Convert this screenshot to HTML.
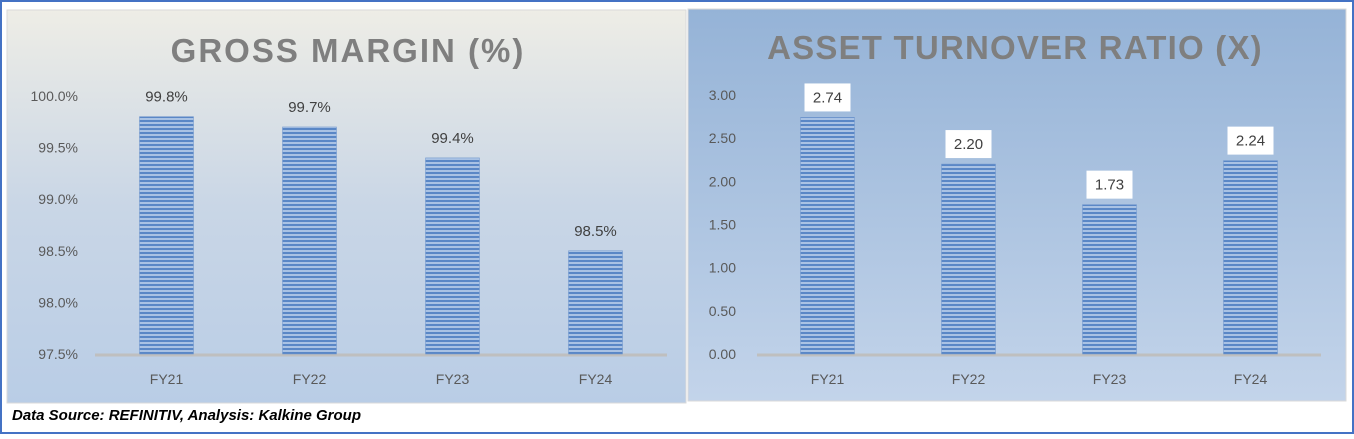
<!DOCTYPE html>
<html><head><meta charset="utf-8"><style>
body{margin:0;width:1354px;height:434px;overflow:hidden;background:#fff;font-family:"Liberation Sans",sans-serif}
</style></head><body>
<svg width="1354" height="434" xmlns="http://www.w3.org/2000/svg" font-family="Liberation Sans, sans-serif">
<defs>
<linearGradient id="gl" x1="0" y1="0" x2="0" y2="1"><stop offset="0" stop-color="#eeede6"/><stop offset="0.5" stop-color="#c9d6e6"/><stop offset="1" stop-color="#b9cde6"/></linearGradient>
<linearGradient id="gr" x1="0" y1="0" x2="0" y2="1"><stop offset="0" stop-color="#95b3d7"/><stop offset="1" stop-color="#c3d4ea"/></linearGradient>
<pattern id="stripe" width="4" height="4" patternUnits="userSpaceOnUse"><rect width="4" height="4" fill="#a9c2e4"/><rect width="4" height="2" fill="#5a87c6"/></pattern>
</defs>
<rect x="1" y="1" width="1352" height="432" fill="#fff" stroke="#4472c4" stroke-width="2"/>
<rect x="7" y="10" width="679" height="393" fill="url(#gl)" stroke="#d9d9d9"/>
<rect x="688" y="9" width="658" height="392" fill="url(#gr)" stroke="#d9d9d9"/>
<text x="348" y="62" text-anchor="middle" font-size="33" font-weight="bold" fill="#7f7f7f" letter-spacing="2">GROSS MARGIN (%)</text>
<text x="1015" y="59" text-anchor="middle" font-size="33" font-weight="bold" fill="#7f7f7f" letter-spacing="1.2">ASSET TURNOVER RATIO (X)</text>
<g id="left"></g><g id="right"></g>
<text x="12" y="420" font-size="15" font-weight="bold" font-style="italic" fill="#000">Data Source: REFINITIV, Analysis: Kalkine Group</text>
</svg>
<script>
const categories=["FY21","FY22","FY23","FY24"];
const grossMargin=[99.8,99.7,99.4,98.5];
const grossLabels=["99.8%","99.7%","99.4%","98.5%"];
const gmTicks=[97.5,98.0,98.5,99.0,99.5,100.0];
const assetTurnover=[2.74,2.20,1.73,2.24];
const atLabels=["2.74","2.20","1.73","2.24"];
const atTicks=[0,0.5,1,1.5,2,2.5,3];
const NS="http://www.w3.org/2000/svg";
function mk(p,t,a){const e=document.createElementNS(NS,t);for(const k in a)e.setAttribute(k,a[k]);p.appendChild(e);return e;}
function chart(g,cfg){
  const y=v=>cfg.y0+(v-cfg.min)/(cfg.max-cfg.min)*(cfg.y1-cfg.y0);
  const step=(cfg.x1-cfg.x0)/categories.length;
  const x=i=>cfg.x0+step*(i+0.5);
  cfg.ticks.forEach(t=>{
    const tx=mk(g,'text',{x:cfg.lx,y:y(t)+5,'text-anchor':'end','font-size':14,fill:'#595959'});
    tx.textContent=cfg.fmt(t);
    
    
  });
  const ax=mk(g,'line',{x1:cfg.x0,x2:cfg.x1,y1:cfg.y0+1,y2:cfg.y0+1,stroke:'#bfbfbf','stroke-width':3});
  
  
  cfg.vals.forEach((v,i)=>{
    const top=y(v);
    const r=mk(g,'rect',{x:x(i)-cfg.bw/2,y:top,width:cfg.bw,height:cfg.y0-top,fill:'url(#stripe)',stroke:'#6d94cc','stroke-width':0.5});
    
    
    if(cfg.box){
      const b=mk(g,'rect',{x:x(i)-23,y:top-34,width:46,height:28,fill:'#fff'});
      
      
    }
    const l=mk(g,'text',{x:x(i),y:top-(cfg.box?15:15),'text-anchor':'middle','font-size':15,fill:'#404040'});
    l.textContent=cfg.labels[i];
    
    
    const c=mk(g,'text',{x:x(i),y:384,'text-anchor':'middle','font-size':14,fill:'#595959'});
    c.textContent=categories[i];
    
    
  });
}
chart(document.getElementById('left'),{x0:95,x1:667,y0:354,y1:96,min:97.5,max:100,lx:78,ticks:gmTicks,vals:grossMargin,labels:grossLabels,bw:54,box:false,fmt:t=>t.toFixed(1)+'%'});
chart(document.getElementById('right'),{x0:757,x1:1321,y0:354,y1:95,min:0,max:3,lx:736,ticks:atTicks,vals:assetTurnover,labels:atLabels,bw:54,box:true,fmt:t=>t.toFixed(2)});
</script>
</body></html>
